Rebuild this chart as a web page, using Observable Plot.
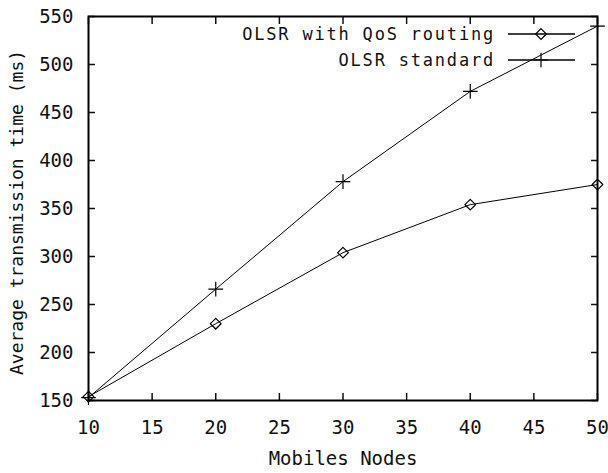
<!DOCTYPE html>
<html><head><meta charset="utf-8">
<script src="https://cdn.jsdelivr.net/npm/d3@7"></script>
<script src="https://cdn.jsdelivr.net/npm/@observablehq/plot@0.6"></script>
<style>
body{margin:0;background:#fff}
#chart{position:relative;width:608px;height:473px}
</style>
</head><body><div id="chart"></div>
<script>
const nodes = [10, 20, 30, 40, 50];
const qosTimes = [154, 230, 304, 354, 375];
const stdTimes = [153, 266, 378, 472, 540];
const seriesNames = ["OLSR with QoS routing", "OLSR standard"];
const seriesSymbols = ["diamond2", "plus"];
const xTicks = [10, 15, 20, 25, 30, 35, 40, 45, 50];
const yTicks = [150, 200, 250, 300, 350, 400, 450, 500, 550];
const xLabel = "Mobiles Nodes";
const yLabel = "Average transmission time (ms)";

const data = [
  ...nodes.map((n, i) => ({nodes: n, time: qosTimes[i], series: seriesNames[0]})),
  ...nodes.map((n, i) => ({nodes: n, time: stdTimes[i], series: seriesNames[1]}))
];

const FONT = "DejaVu Sans Mono";
const blank = () => "";
const R = 4.8;

const chart = Plot.plot({
  width: 608, height: 473,
  marginLeft: 88, marginRight: 11, marginTop: 16, marginBottom: 73,
  style: {fontFamily: FONT, background: "#fff", color: "#111"},
  x: {domain: [10, 50]},
  y: {domain: [150, 550]},
  symbol: {domain: seriesNames, range: seriesSymbols},
  marks: [
    Plot.axisX(xTicks, {anchor: "bottom", tickSize: 0, tickPadding: 20, fontSize: 19, label: null}),
    Plot.axisY(yTicks, {anchor: "left", tickSize: 0, tickPadding: 15, fontSize: 19, label: null}),
    Plot.axisX(xTicks, {anchor: "bottom", tickSize: 7, dy: -7, tickFormat: blank, label: null, strokeWidth: 1.5}),
    Plot.axisX(xTicks, {anchor: "top", tickSize: 7, dy: 7, tickFormat: blank, label: null, strokeWidth: 1.5}),
    Plot.axisY(yTicks, {anchor: "left", tickSize: 7, dx: 7, tickFormat: blank, label: null, strokeWidth: 1.5}),
    Plot.axisY(yTicks, {anchor: "right", tickSize: 7, dx: -7, tickFormat: blank, label: null, strokeWidth: 1.5}),
    Plot.frame({stroke: "#000", strokeWidth: 2}),
    Plot.text([xLabel], {frameAnchor: "bottom", dy: 64, fontSize: 19, fill: "#111"}),
    Plot.text([yLabel], {frameAnchor: "left", textAnchor: "middle", dx: -71, dy: 4, rotate: -90, fontSize: 18, letterSpacing: 1.2, fill: "#111"}),
    Plot.line(data, {x: "nodes", y: "time", z: "series", stroke: "#000", strokeWidth: 1}),
    Plot.dot(data, {x: "nodes", y: "time", symbol: "series", r: R, stroke: "#000", strokeWidth: 1.2, fill: "none"})
  ]
});

document.getElementById("chart").appendChild(chart);

// Legend inside the frame, top-right (gnuplot style)
const sx = chart.scale("x"), sy = chart.scale("y");
const xr = sx.range[1], yt = sy.range[1];
const g = d3.select(chart).append("g").attr("font-family", FONT);
seriesNames.forEach((name, i) => {
  const cy = yt + 18 + 26 * i;
  g.append("text").attr("x", xr - 102).attr("y", cy).attr("dy", "0.35em")
    .attr("text-anchor", "end").attr("font-size", 17).attr("letter-spacing", 1.8)
    .attr("fill", "#111").text(name);
  g.append("line").attr("x1", xr - 89).attr("x2", xr - 22).attr("y1", cy).attr("y2", cy)
    .attr("stroke", "#000").attr("stroke-width", 1.5);
  const sym = seriesSymbols[i] === "plus" ? d3.symbolPlus : d3.symbolDiamond2;
  g.append("path").attr("transform", `translate(${xr - 56},${cy})`)
    .attr("d", d3.symbol(sym, R * R * Math.PI)())
    .attr("fill", "none").attr("stroke", "#000").attr("stroke-width", 1.2);
});
</script>
</body></html>
